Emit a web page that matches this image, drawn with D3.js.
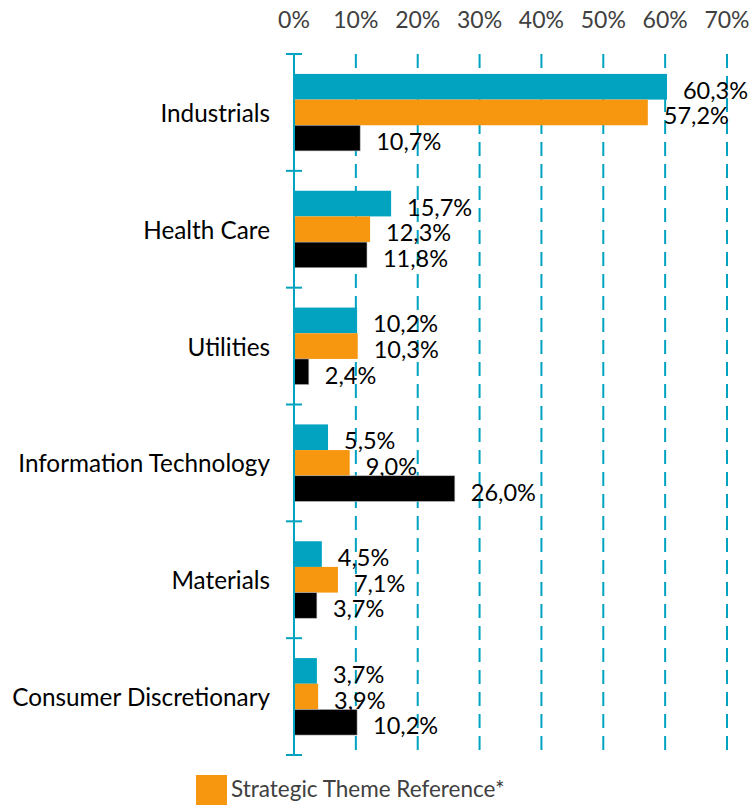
<!DOCTYPE html>
<html>
<head>
<meta charset="utf-8">
<script src="https://cdn.jsdelivr.net/npm/d3@7"></script>
<style>
  body { margin: 0; background: #fff; }
  svg { display: block; font-family: Lato, "Open Sans", sans-serif; }
</style>
</head>
<body>
<div id="chart"></div>
<script>
const categories = ["Industrials", "Health Care", "Utilities", "Information Technology", "Materials", "Consumer Discretionary"];
const seriesNames = ["Portfolio", "Strategic Theme Reference*", "Benchmark"];
const seriesColors = ["#02a3c1", "#f7960f", "#000000"];
const portfolio = [60.3, 15.7, 10.2, 5.5, 4.5, 3.7];
const themeReference = [57.2, 12.3, 10.3, 9.0, 7.1, 3.9];
const benchmark = [10.7, 11.8, 2.4, 26.0, 3.7, 10.2];
const xTicks = [0, 10, 20, 30, 40, 50, 60, 70];

const width = 753;
const height = 805;
const teal = "#02a3c1";

const svg = d3.select("#chart").append("svg")
  .attr("width", width)
  .attr("height", height);

const x = d3.scaleLinear().domain([0, 70]).range([294, 727]);
const y = d3.scaleBand().domain(categories).range([54, 755]);
const groupH = 77;
const inner = d3.scaleBand().domain(d3.range(3))
  .range([(y.bandwidth() - groupH) / 2, (y.bandwidth() + groupH) / 2]);

const values = [portfolio, themeReference, benchmark];
const rows = [];
categories.forEach((c, i) => {
  values.forEach((vals, s) => rows.push({ cat: c, s: s, v: vals[i] }));
});

// dashed gridlines
svg.append("g").selectAll("line")
  .data(xTicks.filter(d => d > 0))
  .enter().append("line")
  .attr("x1", d => x(d)).attr("x2", d => x(d))
  .attr("y1", 54).attr("y2", 752)
  .attr("stroke", teal)
  .attr("stroke-width", 2)
  .attr("stroke-dasharray", "14,8");

// top tick labels
svg.append("g").selectAll("text")
  .data(xTicks)
  .enter().append("text")
  .attr("x", d => x(d))
  .attr("y", 28)
  .attr("text-anchor", "middle")
  .style("font-size", "23px")
  .style("fill", "#404040")
  .text(d => d + "%");

// bars
svg.append("g").selectAll("rect")
  .data(rows)
  .enter().append("rect")
  .attr("x", x(0))
  .attr("y", d => y(d.cat) + inner(d.s))
  .attr("width", d => x(d.v) - x(0))
  .attr("height", inner.bandwidth())
  .attr("fill", d => seriesColors[d.s])
  .attr("stroke", d => d.s === 2 ? "#bbb" : "none")
  .attr("stroke-width", 0.6);

// value labels
svg.append("g").selectAll("text")
  .data(rows)
  .enter().append("text")
  .attr("x", d => x(d.v) + 16)
  .attr("y", d => y(d.cat) + inner(d.s) + inner.bandwidth() / 2 + 3)
  .attr("dominant-baseline", "central")
  .style("font-size", "23.5px")
  .style("fill", "#000")
  .text(d => d.v.toFixed(1).replace(".", ",") + "%");

// left axis line with ticks between categories
svg.append("line")
  .attr("x1", x(0)).attr("x2", x(0))
  .attr("y1", 54).attr("y2", 755)
  .attr("stroke", teal).attr("stroke-width", 2);

svg.append("g").selectAll("line")
  .data(categories.map(c => y(c)).concat([755]))
  .enter().append("line")
  .attr("x1", x(0) - 8).attr("x2", x(0) + 8)
  .attr("y1", d => d).attr("y2", d => d)
  .attr("stroke", teal).attr("stroke-width", 2);

// category labels
svg.append("g").selectAll("text")
  .data(categories)
  .enter().append("text")
  .attr("x", 270)
  .attr("y", d => y(d) + y.bandwidth() / 2)
  .attr("text-anchor", "end")
  .attr("dominant-baseline", "central")
  .style("font-size", "24.3px")
  .style("fill", "#000")
  .text(d => d);

// legend (only the visible item)
const legend = svg.append("g").attr("transform", "translate(196, 775)");
legend.append("rect")
  .attr("width", 31).attr("height", 30)
  .attr("fill", seriesColors[1]);
legend.append("text")
  .attr("x", 35).attr("y", 22)
  .style("font-size", "22.5px")
  .style("fill", "#404040")
  .text(seriesNames[1]);
</script>
</body>
</html>
